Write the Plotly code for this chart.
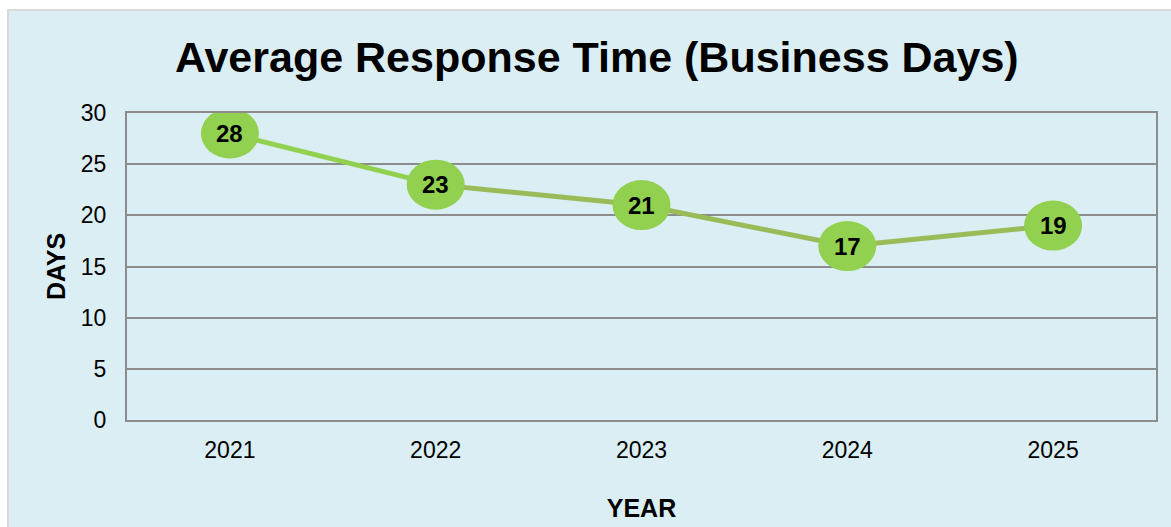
import plotly.graph_objects as go

years = ["2021", "2022", "2023", "2024", "2025"]
days = [28, 23, 21, 17, 19]
y_ticks = [0, 5, 10, 15, 20, 25, 30]

title_text = "Average Response Time (Business Days)"
x_title = "YEAR"
y_title = "DAYS"

FONT = "Liberation Sans, Arial, sans-serif"
BG = "#DAEEF3"
GRID = "#8C8C8C"
BRIGHT = "#92D050"
OLIVE = "#9BBB59"

fig = go.Figure()

# first segment bright green, remaining segments olive
fig.add_trace(go.Scatter(x=years[:2], y=days[:2], mode="lines",
                         line=dict(color=BRIGHT, width=5), hoverinfo="skip",
                         showlegend=False))
fig.add_trace(go.Scatter(x=years[1:], y=days[1:], mode="lines",
                         line=dict(color=OLIVE, width=5), hoverinfo="skip",
                         showlegend=False))

W, H = 1171, 527
L, R, T, B = 127, 15, 113, 107
pw, ph = W - L - R, H - T - B

shapes = []
# outer chart background panel
shapes.append(dict(type="rect", xref="paper", yref="paper",
                   x0=(8 - L) / pw, x1=(W + 10 - L) / pw,
                   y0=-(H + 10 - (H - B)) / ph, y1=(H - B - 10) / ph,
                   fillcolor=BG, line=dict(color="#D9D9D9", width=2),
                   layer="below"))
# elliptical markers anchored at data points (category index positions)
for i, d in enumerate(days):
    shapes.append(dict(type="circle", xref="x", yref="y",
                       xsizemode="pixel", ysizemode="pixel",
                       xanchor=i, yanchor=d,
                       x0=-29, x1=29, y0=-25, y1=25,
                       fillcolor=BRIGHT, line=dict(width=0),
                       layer="above"))

annotations = [dict(x=i, y=d, xref="x", yref="y", text=f"<b>{d}</b>",
                    showarrow=False, font=dict(family=FONT, size=24, color="black"))
               for i, d in enumerate(days)]

annotations.append(dict(text=f"<b>{title_text}</b>", xref="paper", yref="paper",
                        x=(597 - L) / pw, y=(H - B - 57) / ph,
                        xanchor="center", yanchor="middle", showarrow=False,
                        font=dict(family=FONT, size=43, color="black")))

fig.update_layout(
    width=W, height=H,
    margin=dict(l=L, r=R, t=T, b=B, autoexpand=False),
    paper_bgcolor="white",
    plot_bgcolor="rgba(0,0,0,0)",
    shapes=shapes,
    annotations=annotations,
    showlegend=False,
    xaxis=dict(type="category", categoryorder="array", categoryarray=years,
               range=[-0.5, 4.5], showgrid=False, automargin=False,
               showline=True, linecolor=GRID, linewidth=2, mirror=True,
               tickfont=dict(family=FONT, size=23, color="black"),
               ticks="", ticklabelstandoff=8,
               title=dict(text=f"<b>{x_title}</b>", standoff=38,
                          font=dict(family=FONT, size=25, color="black"))),
    yaxis=dict(range=[0, 30], tickvals=y_ticks, showgrid=True, gridcolor=GRID,
               gridwidth=2, zeroline=False, automargin=False,
               showline=True, linecolor=GRID, linewidth=2, mirror=True,
               tickfont=dict(family=FONT, size=23, color="black"),
               ticks="", ticklabelstandoff=14,
               title=dict(text=f"<b>{y_title}</b>", standoff=8,
                          font=dict(family=FONT, size=25, color="black"))),
)

fig.write_html("out.html")
